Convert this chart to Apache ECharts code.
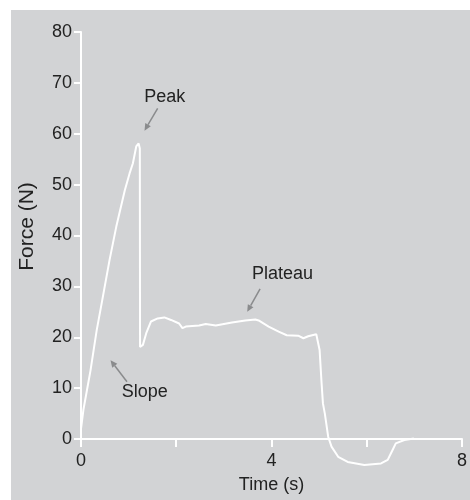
<!DOCTYPE html>
<html>
<head>
<meta charset="utf-8">
<script src="https://cdn.jsdelivr.net/npm/echarts@6/dist/echarts.min.js"></script>
<style>
html,body{margin:0;padding:0;background:#ffffff;}
#chart{width:470px;height:500px;}
</style>
</head>
<body>
<div id="chart"></div>
<script>
// Data (time in s, force in N)
var timeValues = [0, 0.05, 0.2, 0.33, 0.45, 0.6, 0.74, 0.92, 1.02, 1.09, 1.16, 1.21, 1.235, 1.24, 1.30, 1.37, 1.47, 1.61, 1.75, 1.89, 2.06, 2.13, 2.2, 2.48, 2.62, 2.83, 3.17, 3.45, 3.66, 3.73, 3.94, 4.15, 4.32, 4.56, 4.67, 4.77, 4.94, 4.98, 5.01, 5.05, 5.08, 5.12, 5.19, 5.26, 5.4, 5.6, 5.95, 6.3, 6.44, 6.54, 6.61, 6.79, 6.99];
var forceValues = [2, 5.7, 13.5, 21.4, 27.5, 35.2, 41.7, 48.9, 52.2, 54.2, 57.5, 58.1, 57.1, 18.1, 18.5, 20.8, 23.1, 23.7, 23.9, 23.4, 22.7, 21.8, 22.1, 22.3, 22.6, 22.3, 22.9, 23.3, 23.5, 23.3, 22.1, 21.1, 20.4, 20.3, 19.8, 20.2, 20.6, 20.6, 17.5, 11.2, 7, 5, 0.45, -1.5, -3.5, -4.5, -5.1, -4.8, -4.1, -2.2, -0.85, -0.2, 0.1];
var xTickLabels = ['0', '4', '8'];
var yTickLabels = ['0', '10', '20', '30', '40', '50', '60', '70', '80'];
var xAxisName = 'Time (s)';
var yAxisName = 'Force (N)';
// Annotations: label text, label position, arrow start, arrow end (data coords)
var annotationLabels = ['Peak', 'Slope', 'Plateau'];
var annotationTextAt = [[1.76, 67.2], [1.34, 9.3], [4.23, 32.4]];
var annotationArrowFrom = [[1.61, 65.0], [0.965, 11.26], [3.76, 29.5]];
var annotationArrowTo = [[1.333, 60.6], [0.62, 15.5], [3.49, 25.0]];

var FONT = '"Liberation Sans", Arial, Helvetica, sans-serif';
var chart = echarts.init(document.getElementById('chart'), null, {renderer: 'canvas'});
var lineData = timeValues.map(function (t, i) { return [t, forceValues[i]]; });

var option = {
  animation: false,
  backgroundColor: '#ffffff',
  grid: {left: 81, top: 32, width: 384, height: 407, containLabel: false},
  xAxis: {
    type: 'value', min: 0, max: 8, interval: 2,
    name: xAxisName, nameLocation: 'middle', nameGap: 37,
    nameTextStyle: {color: '#222', fontSize: 18, fontFamily: FONT},
    axisLine: {show: true, onZero: false, lineStyle: {color: '#ffffff', width: 2}},
    axisTick: {show: true, length: 8, lineStyle: {color: '#ffffff', width: 2}},
    axisLabel: {color: '#222', fontSize: 18, fontFamily: FONT, margin: 13,
      formatter: function (v) { var s = String(v); return xTickLabels.indexOf(s) >= 0 ? s : ''; }},
    splitLine: {show: false}
  },
  yAxis: {
    type: 'value', min: 0, max: 80, interval: 10,
    axisLine: {show: true, onZero: false, lineStyle: {color: '#ffffff', width: 2}},
    axisTick: {show: true, length: 7, lineStyle: {color: '#ffffff', width: 2}},
    axisLabel: {color: '#222', fontSize: 18, fontFamily: FONT, margin: 9,
      formatter: function (v) { var s = String(v); return yTickLabels.indexOf(s) >= 0 ? s : ''; }},
    splitLine: {show: false}
  },
  graphic: [{
    type: 'rect', z: -10, silent: true,
    shape: {x: 11, y: 10, width: 459, height: 490},
    style: {fill: '#d2d3d5'}
  }, {
    type: 'text', x: 27.5, y: 226.5, rotation: Math.PI / 2, z: 10,
    style: {text: yAxisName, fill: '#222', font: '21px ' + FONT, textAlign: 'center', textVerticalAlign: 'middle'}
  }],
  series: [{
    type: 'line', data: lineData, showSymbol: false, smooth: false, clip: false,
    lineStyle: {color: '#ffffff', width: 2}, z: 3
  }]
};
chart.setOption(option);

// annotations placed through the chart's coordinate system
var g = option.graphic.slice();
for (var i = 0; i < annotationLabels.length; i++) {
  var tp = chart.convertToPixel({gridIndex: 0}, annotationTextAt[i]);
  var a = chart.convertToPixel({gridIndex: 0}, annotationArrowFrom[i]);
  var b = chart.convertToPixel({gridIndex: 0}, annotationArrowTo[i]);
  g.push({type: 'text', x: tp[0], y: tp[1], z: 10,
    style: {text: annotationLabels[i], fill: '#222', font: '18px ' + FONT, textAlign: 'center', textVerticalAlign: 'middle'}});
  var dx = b[0] - a[0], dy = b[1] - a[1];
  var len = Math.sqrt(dx * dx + dy * dy);
  var ux = dx / len, uy = dy / len;
  var hl = 7, hw = 3.2;
  var bx = b[0] - ux * hl, by = b[1] - uy * hl;
  g.push({type: 'line', z: 10, shape: {x1: a[0], y1: a[1], x2: bx, y2: by}, style: {stroke: '#8a8b8d', lineWidth: 1.5}});
  g.push({type: 'polygon', z: 10, shape: {points: [[b[0], b[1]], [bx - uy * hw, by + ux * hw], [bx + uy * hw, by - ux * hw]]}, style: {fill: '#8a8b8d'}});
}
chart.setOption({graphic: g});
</script>
</body>
</html>
